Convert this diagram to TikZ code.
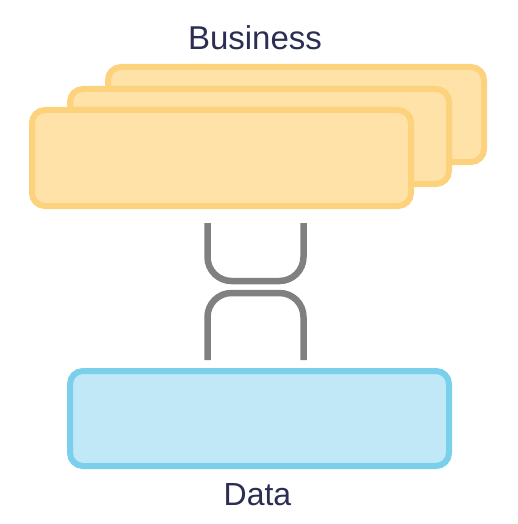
\documentclass[tikz,border=0pt]{standalone}
\usepackage{fontspec}
\setmainfont{Liberation Sans}
\definecolor{ylfill}{HTML}{FEE2A8}
\definecolor{ylline}{HTML}{FDD27D}
\definecolor{blfill}{HTML}{C0E8F7}
\definecolor{blline}{HTML}{7ACFEB}
\definecolor{txt}{HTML}{2B2D52}
\definecolor{conn}{HTML}{808080}
\tikzset{
  bizbox/.style={draw=ylline, fill=ylfill, line width=6pt, rounded corners=13pt, minimum width=379pt, minimum height=95pt, inner sep=0pt},
  databox/.style={draw=blline, fill=blfill, line width=6pt, rounded corners=13pt, minimum width=379pt, minimum height=95pt, inner sep=0pt},
  lbl/.style={text=txt, anchor=base, inner sep=0pt},
  link/.style={draw=conn, line width=6.5pt, rounded corners=24pt}
}
\begin{document}
\begin{tikzpicture}[x=1pt,y=-1pt]
\useasboundingbox (0,0) rectangle (518,524);
\node[bizbox, minimum width=376pt] (back) at (296,114.5) {};
\node[bizbox] (mid) at (259.5,136.5) {};
\node[bizbox, minimum height=96pt] (front) at (221.5,158) {};
\node[databox] (data) at (259.5,418.5) {};
\node[lbl, font=\fontsize{33}{33}\selectfont] (biz) at (255,50) {Business};
\node[lbl, font=\fontsize{32}{32}\selectfont] (dlbl) at (257.5,505) {Data};
\coordinate (ua) at (207.5,223);
\coordinate (ub) at (303.5,223);
\coordinate (la) at (207.5,360);
\coordinate (lb) at (303.5,360);
\draw[link] (ua) -- (ua |- 0,281) -- (ub |- 0,281) -- (ub);
\draw[link] (la) -- (la |- 0,293) -- (lb |- 0,293) -- (lb);
\end{tikzpicture}
\end{document}
